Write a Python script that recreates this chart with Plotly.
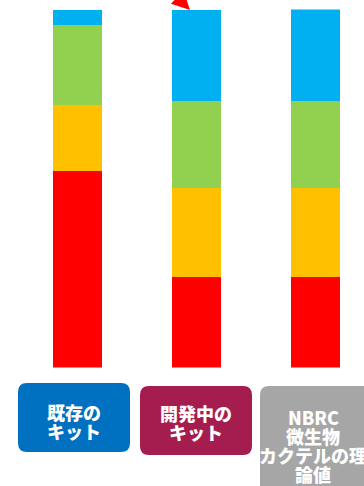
import plotly.graph_objects as go

W, H = 364, 486

categories = ["既存のキット", "開発中のキット", "NBRC微生物カクテルの理論値"]
red_vals = [55.0, 25.3, 25.3]
yellow_vals = [18.2, 24.9, 24.9]
green_vals = [22.6, 24.3, 24.3]
blue_vals = [4.2, 25.4, 26.0]

label_lines = [["既存の", "キット"], ["開発中の", "キット"], ["NBRC", "微生物", "カクテルの理", "論値"]]
label_colors = ["#0070C0", "#A51C4E", "#A6A6A6"]

series = [
    ("red", red_vals, "#FF0000"),
    ("yellow", yellow_vals, "#FFC000"),
    ("green", green_vals, "#92D050"),
    ("blue", blue_vals, "#00B0F0"),
]

fig = go.Figure()
for name, vals, col in series:
    fig.add_trace(go.Bar(x=list(range(len(categories))), y=vals, name=name,
                         marker=dict(color=col, line=dict(width=0)),
                         width=0.41, hoverinfo="skip"))


def px(x):
    return x / W


def py(y):
    return 1 - y / H


def rounded_box(x0, y0, x1, y1, r):
    pts = [
        f"M {px(x0 + r)},{py(y0)}",
        f"L {px(x1 - r)},{py(y0)}",
        f"Q {px(x1)},{py(y0)} {px(x1)},{py(y0 + r)}",
        f"L {px(x1)},{py(y1 - r)}",
        f"Q {px(x1)},{py(y1)} {px(x1 - r)},{py(y1)}",
        f"L {px(x0 + r)},{py(y1)}",
        f"Q {px(x0)},{py(y1)} {px(x0)},{py(y1 - r)}",
        f"L {px(x0)},{py(y0 + r)}",
        f"Q {px(x0)},{py(y0)} {px(x0 + r)},{py(y0)}",
        "Z",
    ]
    return " ".join(pts)


boxes = [(18, 383, 130, 452), (140, 386, 252, 455), (260, 386, 390, 510)]
text_x = [74, 196, 313]
text_y0 = [412, 413, 417]
line_step = 19

shapes = []
annotations = []
for (x0, y0, x1, y1), col, lines, cx, ty in zip(boxes, label_colors, label_lines, text_x, text_y0):
    shapes.append(dict(type="path", xref="paper", yref="paper",
                       path=rounded_box(x0, y0, x1, y1, 9),
                       fillcolor=col, line=dict(width=0), layer="above"))
    for i, ln in enumerate(lines):
        annotations.append(dict(x=px(cx), y=py(ty + i * line_step), xref="paper", yref="paper",
                                text=ln, showarrow=False, xanchor="center", yanchor="middle",
                                align="center",
                                font=dict(family="Noto Sans CJK JP", size=18, color="white",
                                          weight=900)))

# red arrow pointing at the middle bar top
annotations.append(dict(x=px(190), y=py(10), xref="paper", yref="paper", text="",
                        showarrow=True, ax=-10, ay=-34, arrowcolor="#FF0000",
                        arrowwidth=3, arrowhead=2, arrowsize=1.2, standoff=0))

x_left = -77.5 / 119
x_right = (W - 77.5) / 119

fig.update_layout(
    width=W, height=H,
    margin=dict(l=0, r=0, t=0, b=0),
    paper_bgcolor="white", plot_bgcolor="white",
    barmode="stack", showlegend=False,
    xaxis=dict(range=[x_left, x_right], visible=False, domain=[0, 1], fixedrange=True),
    yaxis=dict(range=[0, 100], visible=False,
               domain=[(H - 367.5) / H, (H - 9.5) / H], fixedrange=True),
    shapes=shapes,
    annotations=annotations,
)

fig.write_html("out.html")
